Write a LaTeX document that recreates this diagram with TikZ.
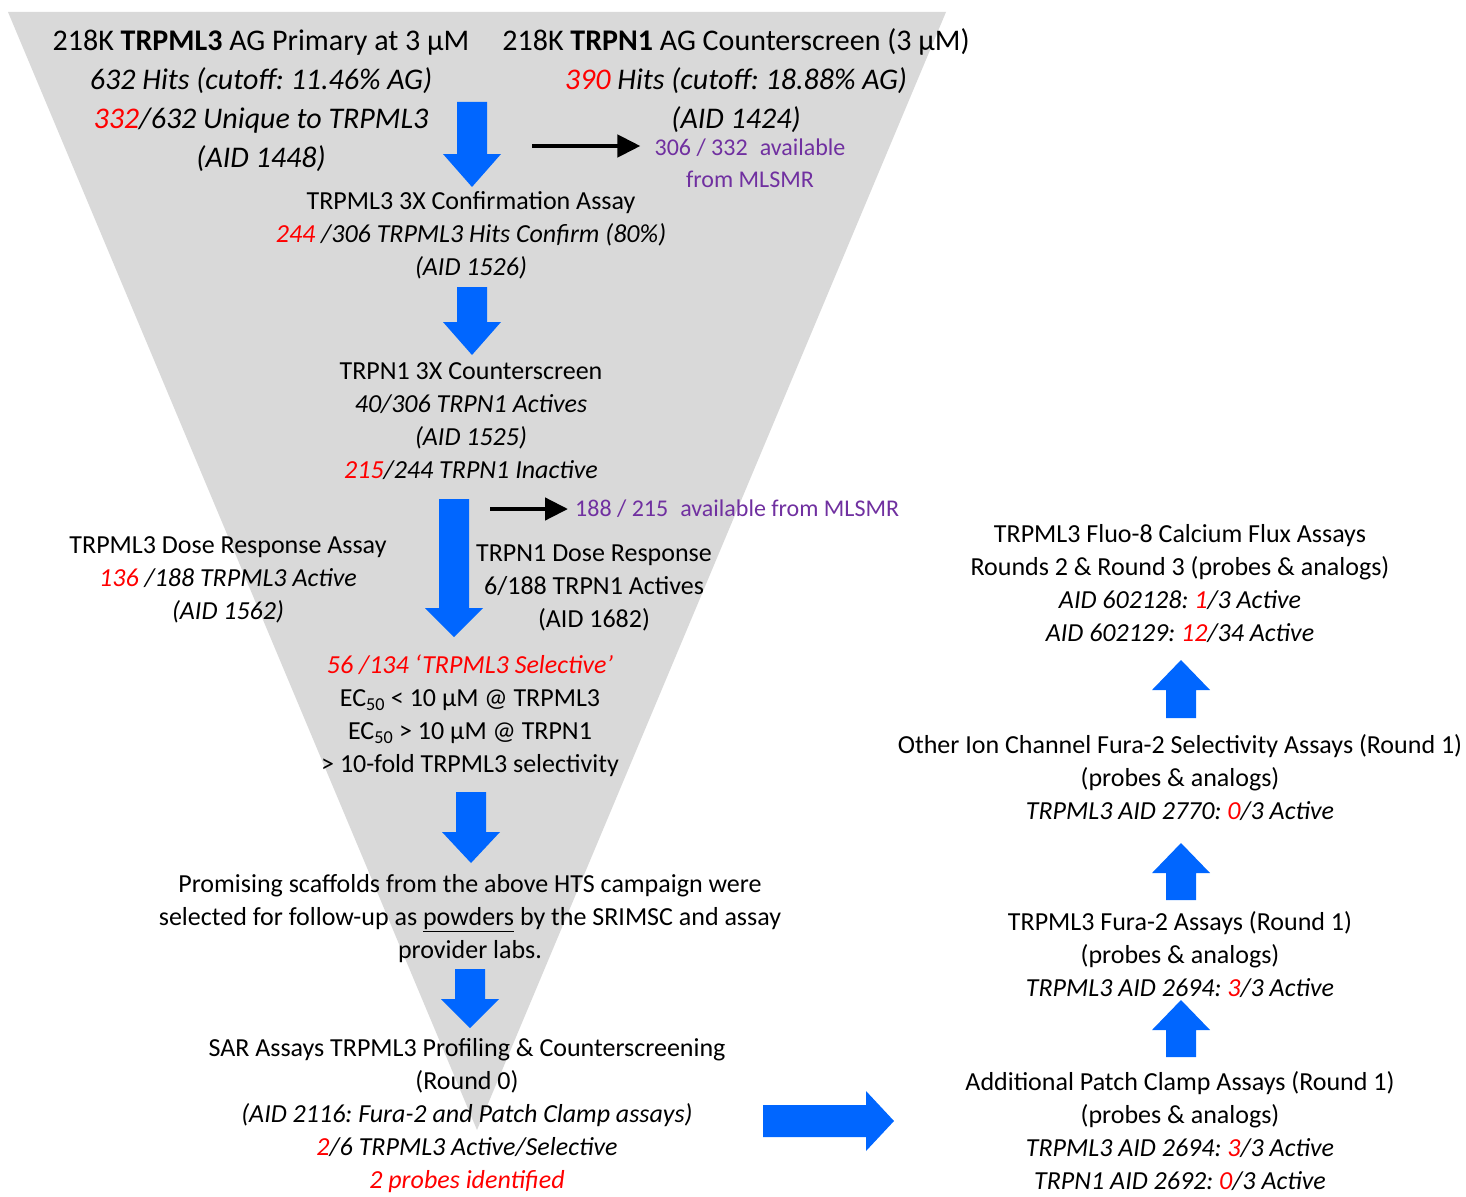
\documentclass[tikz,border=0pt]{standalone}
\usepackage{fontspec}
\setmainfont{Carlito}
\usetikzlibrary{arrows.meta}
\frenchspacing

\definecolor{funnel gray}{HTML}{D9D9D9}
\definecolor{block blue}{HTML}{0066FF}
\definecolor{hit red}{HTML}{FF0000}
\definecolor{mlsmr purple}{HTML}{7030A0}

\newcommand\hit[1]{\textcolor{hit red}{#1}}
% x, start, head base, tip (vertical block arrow)
\newcommand\vblock[4]{\fill[block blue] ({#1-15},#2) -- ({#1+15},#2) -- ({#1+15},#3) -- ({#1+29},#3) -- (#1,#4) -- ({#1-29},#3) -- ({#1-15},#3) -- cycle;}
% y, start, head base, tip (horizontal block arrow)
\newcommand\hblock[4]{\fill[block blue] (#2,{#1-16}) -- (#3,{#1-16}) -- (#3,{#1-30}) -- (#4,#1) -- (#3,{#1+30}) -- (#3,{#1+16}) -- (#2,{#1+16}) -- cycle;}

\begin{document}
\begin{tikzpicture}[x=1pt,y=-1pt,
  text block/.style={align=center,inner sep=0pt,font=\fontsize{26}{33}\selectfont},
  top block/.style={align=center,inner sep=0pt,font=\fontsize{30}{39}\selectfont},
  avail note/.style={align=center,inner sep=0pt,text=mlsmr purple,font=\fontsize{24}{32}\selectfont},
  thin arrow/.style={-{Triangle[length=23pt,width=22pt]},line width=4.5pt}]

  \useasboundingbox (0,0) rectangle (1466,1196);
  \fill[funnel gray] (8,12) -- (946,12) -- (477,1130) -- cycle;

  % funnel text
  \node[top block] (primary) at (261,101) {218K \textbf{TRPML3} AG Primary at 3 µM\\
    \textit{632 Hits (cutoff: 11.46\% AG)}\\
    \textit{\hit{332}/632 Unique to TRPML3}\\
    \textit{(AID 1448)}};
  \node[top block] (counter) at (736,81) {218K \textbf{TRPN1} AG Counterscreen (3 µM)\\
    \textit{\hit{390} Hits (cutoff: 18.88\% AG)}\\
    \textit{(AID 1424)}};
  \node[avail note] (avail1) at (750,163) {306 / 332\enspace available\\from MLSMR};
  \node[text block] (confirm) at (471,235) {TRPML3 3X Confirmation Assay\\
    \textit{\hit{244} /306 TRPML3 Hits Confirm (80\%)}\\
    \textit{(AID 1526)}};
  \node[text block] (trpn3x) at (471,421) {TRPN1 3X Counterscreen\\
    \textit{40/306 TRPN1 Actives}\\
    \textit{(AID 1525)}\\
    \textit{\hit{215}/244 TRPN1 Inactive}};
  \node[avail note,anchor=west] (avail2) at (575,509) {188 / 215\enspace available from MLSMR};
  \node[text block] (doseL) at (228,580) {TRPML3 Dose Response Assay\\
    \textit{\hit{136} /188 TRPML3 Active}\\
    \textit{(AID 1562)}};
  \node[text block] (doseR) at (594,588) {TRPN1 Dose Response\\
    6/188 TRPN1 Actives\\
    (AID 1682)};
  \node[text block] (selective) at (470,716) {\textit{\hit{56 /134 ‘TRPML3 Selective’}}\\
    EC\textsubscript{50} < 10 µM @ TRPML3\\
    EC\textsubscript{50} > 10 µM @ TRPN1\\
    > 10-fold TRPML3 selectivity};
  \node[text block] (powders) at (470,919) {Promising scaffolds from the above HTS campaign were\\
    selected for follow-up as \underline{powders} by the SRIMSC and assay\\
    provider labs.};
  \node[text block] (sar) at (467,1116) {SAR Assays TRPML3 Profiling \& Counterscreening\\
    (Round 0)\\
    \textit{(AID 2116: Fura-2 and Patch Clamp assays)}\\
    \textit{\hit{2}/6 TRPML3 Active/Selective}\\
    \textit{\hit{2 probes identified}}};

  % right column
  \node[text block] (fluo) at (1180,584) {TRPML3 Fluo-8 Calcium Flux Assays\\
    Rounds 2 \& Round 3 (probes \& analogs)\\
    \textit{AID 602128: \hit{1}/3 Active}\\
    \textit{AID 602129: \hit{12}/34 Active}};
  \node[text block] (other) at (1180,778) {Other Ion Channel Fura-2 Selectivity Assays (Round 1)\\
    (probes \& analogs)\\
    \textit{TRPML3 AID 2770: \hit{0}/3 Active}};
  \node[text block] (fura) at (1180,955) {TRPML3 Fura-2 Assays (Round 1)\\
    (probes \& analogs)\\
    \textit{TRPML3 AID 2694: \hit{3}/3 Active}};
  \node[text block] (patch) at (1180,1131) {Additional Patch Clamp Assays (Round 1)\\
    (probes \& analogs)\\
    \textit{TRPML3 AID 2694: \hit{3}/3 Active}\\
    \textit{TRPN1 AID 2692: \hit{0}/3 Active}};

  % block arrows
  \vblock{472}{102}{154}{187}
  \vblock{472}{287}{322}{355}
  \vblock{454}{499}{608}{637}
  \vblock{471}{792}{832}{863}
  \vblock{470}{969}{999}{1028}
  \vblock{1181}{718}{690}{660}
  \vblock{1181}{900}{873}{843}
  \vblock{1181}{1057}{1030}{1000}
  \hblock{1121}{763}{866}{894}

  % MLSMR arrows
  \coordinate (m1) at (532,146);
  \coordinate (m2) at (490,509);
  \draw[thin arrow] (m1) -- ([xshift=-14pt]m1 -| avail1.west);
  \draw[thin arrow] (m2) -- ([xshift=-7pt]m2 -| avail2.west);
\end{tikzpicture}
\end{document}
